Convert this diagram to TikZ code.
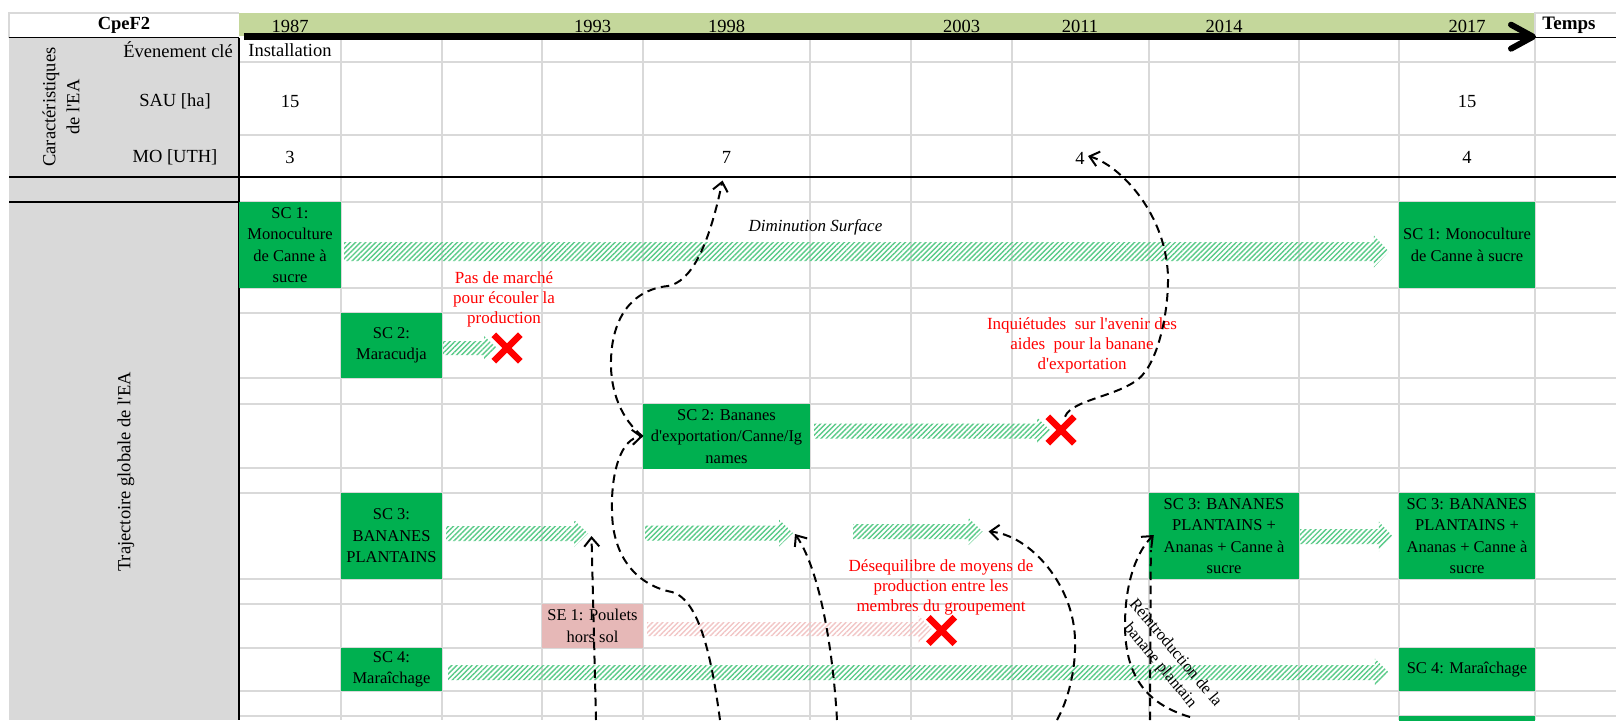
\documentclass[tikz,border=0pt]{standalone}
\usepackage{fontspec}
\setmainfont{Liberation Serif}[Ligatures=TeXOff]
\usetikzlibrary{calc,patterns.meta,arrows.meta,shapes.misc}
\definecolor{gridgray}{HTML}{D9D9D9}
\definecolor{colgray}{HTML}{D9D9D9}
\definecolor{band}{HTML}{C4D79B}
\definecolor{boxgreen}{HTML}{00B050}
\definecolor{boxpink}{HTML}{E6B8B7}
\definecolor{hgreen}{HTML}{5ACB89}
\definecolor{hpink}{HTML}{F2C6C6}
\definecolor{xred}{HTML}{FF0000}
\newcommand\cellfont{\fontsize{18.5}{24}\selectfont}
\newcommand\boxfont{\fontsize{16.5}{21.5}\selectfont}
\newcommand\redfont{\fontsize{17}{20}\selectfont}
\newcommand\reinfont{\fontsize{16.5}{20}\selectfont}
% hatched block arrow: start point, tip point, shaft half, head half, head length, colour
\newcommand\harrow[6]{%
  \path[pattern={Lines[angle=45,distance=3.6pt,line width=1.4pt]},pattern color=#6]
    let \p1=(#1), \p2=(#2) in
    (\x1,\y1+#3) -- (\x2-#5,\y1+#3) -- (\x2-#5,\y1+#4) -- (\x2,\y1)
    -- (\x2-#5,\y1-#4) -- (\x2-#5,\y1-#3) -- (\x1,\y1-#3) -- cycle;}
\begin{document}
\begin{tikzpicture}[x=1pt,y=-1pt,
  gridl/.style={draw=gridgray,line width=1.3pt},
  blackl/.style={draw=black,line width=1.6pt},
  gbox/.style={fill=boxgreen,inner sep=0pt,align=center,font=\boxfont,text=black},
  pbox/.style={fill=boxpink,inner sep=0pt,align=center,font=\boxfont,text=black},
  celltxt/.style={font=\cellfont,inner sep=2pt,align=center},
  redtxt/.style={text=xred,font=\redfont,align=center,inner sep=0pt},
  xmark/.style={cross out,draw=xred,line width=6.5pt,minimum size=20pt,inner sep=0pt},
  dline/.style={line width=2pt,dash pattern=on 8.5pt off 5.5pt},
  dcurve/.style={dline,-{Straight Barb[length=9pt,width=15pt]}}]

\path[use as bounding box,fill=white] (0,0) rectangle (1616,720);

% left grey column and header cells
\fill[colgray] (9,37.5) rectangle (239,720);
\fill[band] (239,13) rectangle (1535,36);
\draw[gridl] (9,37.5) -- (9,13) -- (239,13);
\draw[gridl] (1535,37.5) -- (1535,13) -- (1616,13);

% grid
\foreach \x in {341,442,542,643,810,911,1012,1149,1299,1399,1535}
  \draw[gridl] (\x,37.5) -- (\x,720);
\foreach \y in {62,135,202,288,313,378,404,468,493,579,604,648,691,716}
  \draw[gridl] (239,\y) -- (1616,\y);

% black rules
\draw[blackl] (9,37.5) -- (239,37.5);
\draw[blackl] (1535,37.5) -- (1616,37.5);
\draw[blackl] (239,37.5) -- (239,720);
\draw[blackl] (9,177) -- (1616,177);
\draw[blackl] (9,202) -- (239,202);

% header texts
\node[celltxt,font=\cellfont\bfseries] (cpef) at (124,25.5) {CpeF2};
\node[celltxt,font=\fontsize{19}{22}\selectfont\bfseries] (temps) at (1569,25.5) {Temps};
\node[celltxt] (y1987) at (290,26) {1987};
\node[celltxt] (y1993) at (592.5,26) {1993};
\node[celltxt] (y1998) at (726.5,26) {1998};
\node[celltxt] (y2003) at (961.5,26) {2003};
\node[celltxt] (y2011) at (1080,26) {2011};
\node[celltxt] (y2014) at (1224,26) {2014};
\node[celltxt] (y2017) at (1467,26) {2017};

% left labels
\node[celltxt,rotate=90] (lcar) at (61,107) {Caractéristiques\\de l'EA};
\node[celltxt,anchor=east] (lev) at (235,50) {Évenement clé};
\node[celltxt] (lsau) at (175,101) {SAU [ha]};
\node[celltxt] (lmo) at (175,157.5) {MO [UTH]};
\node[celltxt,rotate=90] (ltraj) at (126,472) {Trajectoire globale de l'EA};

% values
\node[celltxt] (inst) at (290,50) {Installation};
\node[celltxt] (sau1) at (290,101) {15};
\node[celltxt] (mo1) at (290,157.5) {3};
\node[celltxt] (n7) at (726.5,157.5) {7};
\node[celltxt] (n4a) at (1080,158) {4};
\node[celltxt] (sau2) at (1467,101) {15};
\node[celltxt] (mo2) at (1467,157.5) {4};

% boxes
\node[gbox,minimum width=102pt,minimum height=86pt] (sc1a) at (290,245) {SC 1:\\Monoculture\\de Canne à\\sucre};
\node[gbox,minimum width=101pt,minimum height=65pt] (sc2m) at (391.5,345.5) {SC 2:\\Maracudja};
\node[gbox,minimum width=167pt,minimum height=65pt] (ba) at (726.5,436.5) {SC 2: Bananes\\d'exportation/Canne/Ig\\names};
\node[gbox,minimum width=101pt,minimum height=86pt] (sc3a) at (391.5,536) {SC 3:\\BANANES\\PLANTAINS};
\node[pbox,minimum width=101pt,minimum height=44pt] (se1) at (592.5,626) {SE 1: Poulets\\hors sol};
\node[gbox,minimum width=101pt,minimum height=43pt] (sc4a) at (391.5,669.5) {SC 4:\\Maraîchage};
\node[gbox,minimum width=150pt,minimum height=86pt] (sc3b) at (1224,536) {SC 3: BANANES\\PLANTAINS +\\Ananas + Canne à\\sucre};
\node[gbox,minimum width=136pt,minimum height=86pt] (sc3c) at (1467,536) {SC 3: BANANES\\PLANTAINS +\\Ananas + Canne à\\sucre};
\node[gbox,minimum width=136pt,minimum height=86pt] (sc1b) at (1467,245) {SC 1: Monoculture\\de Canne à sucre};
\node[gbox,minimum width=136pt,minimum height=43pt] (sc4b) at (1467,669.5) {SC 4: Maraîchage};
\node[gbox,minimum width=136pt,minimum height=8pt] (sc5) at (1467,720) {};

% X mark positions
\coordinate (x1) at (507,348);
\coordinate (x2) at (1061,430);
\coordinate (x3) at (941.5,630.5);

% hatched arrows
\coordinate (t4a) at (588,533.5);
\coordinate (s4b) at (645,533);
\coordinate (t4b) at (793,533);
\coordinate (s4c) at (853,531.5);
\coordinate (t4c) at (982.5,531.5);
\harrow{$(sc1a.east)+(3,6.5)$}{$(sc1b.west)+(-10,0)$}{9.5pt}{16pt}{15pt}{hgreen}
\harrow{$(sc2m.east)+(1,2.5)$}{$(x1)+(-10,0)$}{7pt}{12pt}{13pt}{hgreen}
\harrow{$(ba.east)+(4,-5.5)$}{$(x2)+(-10,0)$}{7.5pt}{13.5pt}{14pt}{hgreen}
\harrow{$(sc3a.east)+(4,-2.5)$}{t4a}{7.5pt}{13.5pt}{14pt}{hgreen}
\harrow{s4b}{t4b}{7.5pt}{13.5pt}{14pt}{hgreen}
\harrow{s4c}{t4c}{7.5pt}{13.5pt}{14pt}{hgreen}
\harrow{$(sc3b.east)+(1,0.5)$}{$(sc3c.west)+(-6,0)$}{7.5pt}{15pt}{14pt}{hgreen}
\harrow{$(se1.east)+(4,3)$}{$(x3)+(-10,0)$}{7pt}{13.5pt}{13pt}{hpink}
\harrow{$(sc4a.east)+(6,3)$}{$(sc4b.west)+(-10,0)$}{7.5pt}{14pt}{14pt}{hgreen}

% X marks on top
\node[xmark] (xm1) at (x1) {};
\node[xmark] (xm2) at (x2) {};
\node[xmark] (xm3) at (x3) {};

% annotations
\node[font=\redfont\itshape,inner sep=0pt] (dim) at (815.5,227) {Diminution Surface};
\node[redtxt] (pasm) at (504,299) {Pas de marché\\pour écouler la\\production};
\node[redtxt] (inq) at (1082,345) {Inquiétudes~ sur l'avenir des\\aides~ pour la banane\\d'exportation};
\node[redtxt] (deseq) at (941,587.5) {Désequilibre de moyens de\\production entre les\\membres du groupement};
\node[font=\reinfont,align=center,inner sep=0pt,rotate=-50] (reint) at (1167.5,659.5) {Réintroduction de la\\banane plantain};

% dashed connectors
\coordinate (b1) at (720,720);
\coordinate (b3) at (596,720);
\coordinate (b4) at (837,720);
\coordinate (b5) at (1057,720);
\coordinate (b6) at (1190,717);
\coordinate (b7) at (1150,720);
\draw[dcurve] (b1) .. controls (712,660) and (700,600) .. (672,592)
  .. controls (640,586) and (612,560) .. (612,510)
  .. controls (611,470) and (622,438) .. (ba.west);
\draw[dcurve] (ba.west) .. controls (622,420) and (610,392) .. (611,360)
  .. controls (612,320) and (630,290) .. (668,286)
  .. controls (690,282) and (708,250) .. ([xshift=-4pt,yshift=-23pt]n7.center);
\draw[dcurve] ([xshift=4pt]xm2.north) .. controls (1072,398) and (1128,396) .. (1145,372)
  .. controls (1160,352) and (1168,310) .. (1168,280)
  .. controls (1168,215) and (1120,165) .. ([xshift=8pt,yshift=2pt]n4a.center);
\draw[dcurve] (b3) -- ([xshift=3.5pt,yshift=-2.5pt]t4a);
\draw[dcurve] (b4) .. controls (833,650) and (820,570) .. ([xshift=2pt,yshift=-1pt]t4b);
\draw[dcurve] (b5) .. controls (1068,700) and (1076,670) .. (1075,640)
  .. controls (1074,585) and (1030,535) .. ([xshift=6pt]t4c);
\draw[dcurve] (b6) .. controls (1150,705) and (1125,680) .. (1125,625)
  .. controls (1125,580) and (1138,550) .. ([xshift=5pt,yshift=1pt]sc3b.west);
\draw[dline] (b7) -- ([xshift=2pt,yshift=-14pt]sc3b.west);

% time arrow
\coordinate (tstart) at (244,36.7);
\coordinate (tend) at (1533,36.7);
\draw[line width=6.5pt] (tstart) -- ([xshift=-4pt]tend);
\draw[line width=6pt,line cap=round,line join=round] ($(tend)+(-22,-12)$) -- (tend) -- ($(tend)+(-22,12)$);
\end{tikzpicture}
\end{document}
